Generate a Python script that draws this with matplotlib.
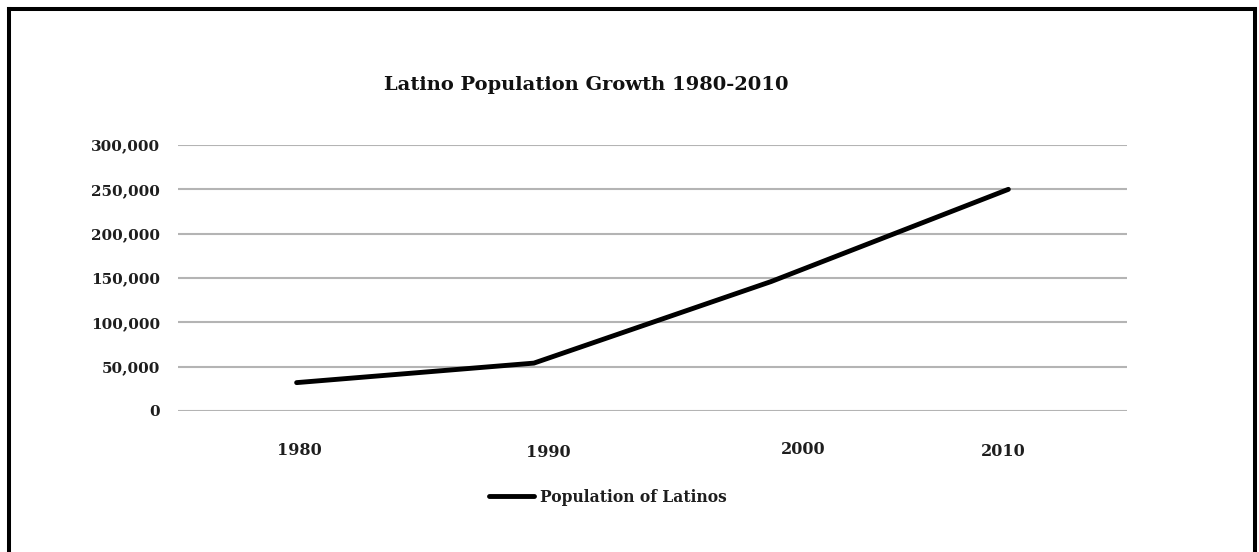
import matplotlib
matplotlib.use("Agg")
import matplotlib.pyplot as plt
from matplotlib.lines import Line2D
from matplotlib.ticker import FuncFormatter
from matplotlib.transforms import ScaledTranslation

# ---- data ----
years = ["1980", "1990", "2000", "2010"]
population = [32000, 54000, 146000, 250000]
series_name = "Population of Latinos"
title = "Latino Population Growth 1980-2010"
y_ticks = [0, 50000, 100000, 150000, 200000, 250000, 300000]

W, H = 1259, 552
fig = plt.figure(figsize=(W / 100, H / 100), dpi=100)
fig.patch.set_facecolor("white")

FONT = "DejaVu Serif"

ax = fig.add_axes([178 / W, (H - 411) / H, (1127 - 178) / W, (411 - 145) / H])
x = list(range(len(years)))
line, = ax.plot(x, population, color="black", lw=3.5, solid_capstyle="round",
                solid_joinstyle="round", label=series_name, zorder=3)

ax.set_xlim(-0.5, len(years) - 0.5)
ax.set_ylim(0, 300000)
ax.set_yticks(y_ticks)
ax.yaxis.set_major_formatter(FuncFormatter(lambda v, p: f"{int(v):,}"))
ax.set_xticks(x)
ax.set_xticklabels(years)
ax.grid(axis="y", color="#b4b4b4", lw=1.5)
ax.set_axisbelow(True)
for s in ax.spines.values():
    s.set_visible(False)
ax.tick_params(axis="both", length=0)
ax.tick_params(axis="y", pad=13)
ax.tick_params(axis="x", pad=23)
for lab in ax.get_yticklabels():
    lab.set_fontfamily(FONT)
    lab.set_fontweight("bold")
    lab.set_fontsize(11)
    lab.set_color("#1e1e1e")
# the reference's year labels sit slightly off their category centres
label_shift_px = [(3, 1), (14, -1), (32, 2), (-5, 0)]
for lab, (dx, dy) in zip(ax.get_xticklabels(), label_shift_px):
    lab.set_fontfamily(FONT)
    lab.set_fontweight("bold")
    lab.set_fontsize(11.5)
    lab.set_color("#1e1e1e")
    lab.set_transform(lab.get_transform() +
                      ScaledTranslation(dx / 100, dy / 100, fig.dpi_scale_trans))

fig.text(586 / W, (H - 85) / H, title, ha="center", va="center",
         fontfamily=FONT, fontweight="bold", fontsize=14, color="#111111")

leg = fig.legend(handles=[line], loc="center left",
                 bbox_to_anchor=(475 / W, (H - 497) / H), frameon=False,
                 handlelength=2.9, handletextpad=0.38,
                 prop={"family": FONT, "weight": "bold", "size": 11.2})
for t in leg.get_texts():
    t.set_color("#1e1e1e")

# outer border (open at the bottom, as in the reference)
lw_pt = 2.9
xl, xr, yt = 8.5 / W, 1255 / W, (H - 8.5) / H
fig.add_artist(Line2D([xl, xl], [0, yt], transform=fig.transFigure,
                      color="black", lw=lw_pt, solid_capstyle="projecting"))
fig.add_artist(Line2D([xl, xr], [yt, yt], transform=fig.transFigure,
                      color="black", lw=lw_pt, solid_capstyle="projecting"))
fig.add_artist(Line2D([xr, xr], [0, yt], transform=fig.transFigure,
                      color="black", lw=lw_pt, solid_capstyle="projecting"))

fig.savefig("out.png", dpi=100, facecolor="white")
